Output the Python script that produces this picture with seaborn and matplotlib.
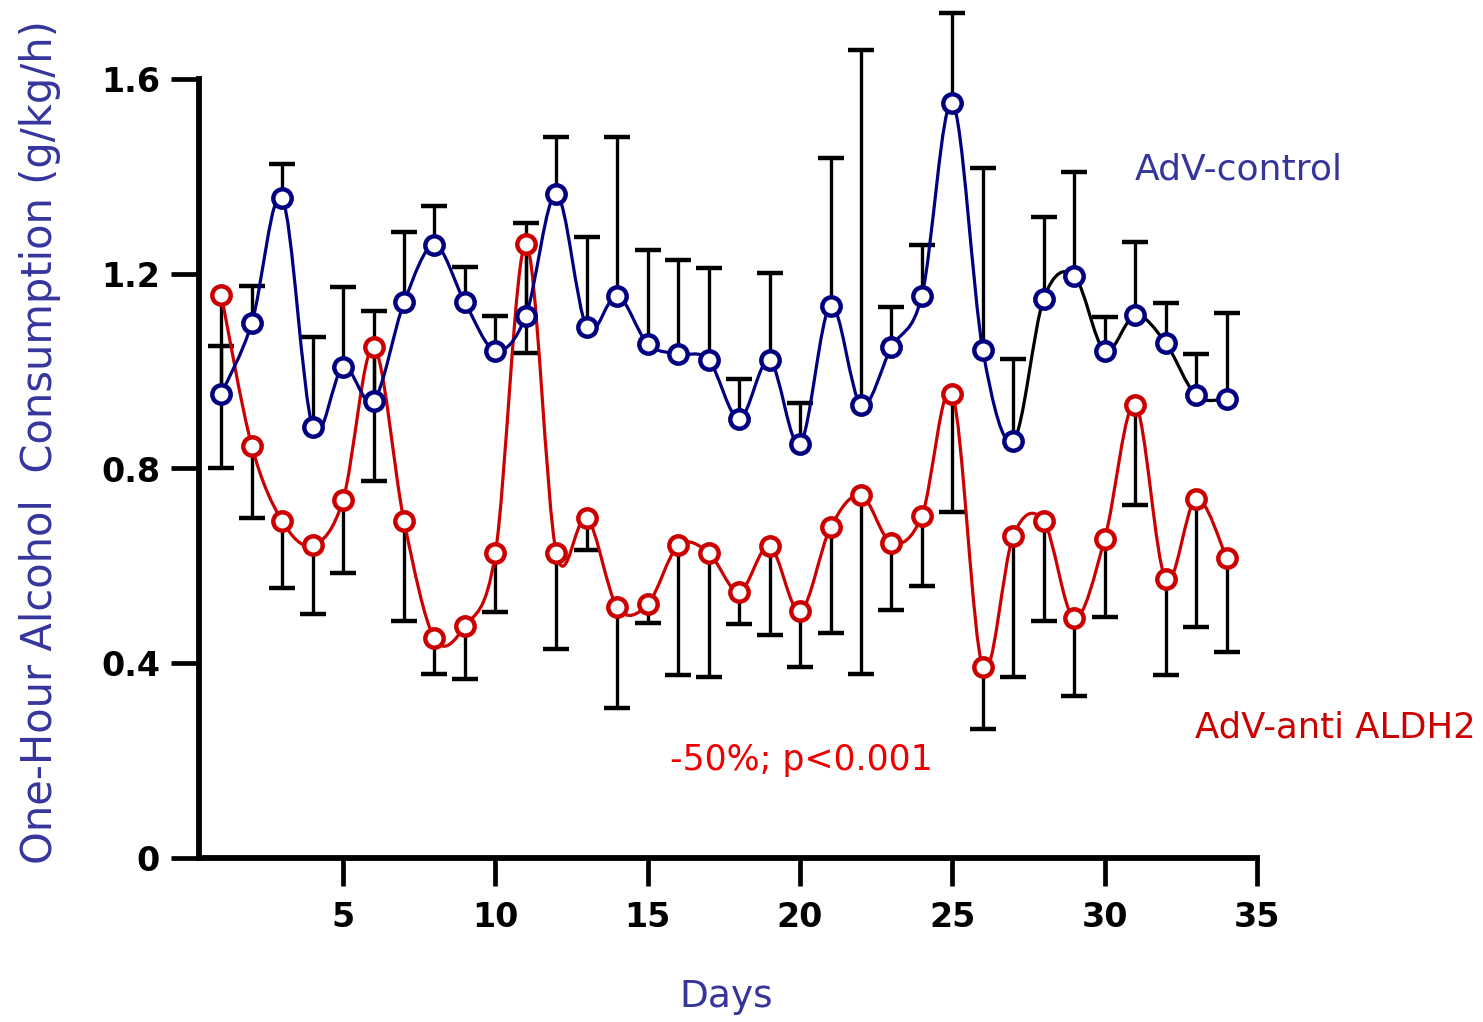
import numpy as np
import matplotlib
matplotlib.use("Agg")
import matplotlib.pyplot as plt
from matplotlib.path import Path
from matplotlib.patches import PathPatch
import seaborn as sns

# values
days = list(range(1, 35))
control_mean = [0.953, 1.098, 1.355, 0.886, 1.008, 0.939, 1.141, 1.259, 1.141, 1.042,
                1.114, 1.363, 1.090, 1.155, 1.056, 1.035, 1.023, 0.902, 1.022, 0.851,
                1.134, 0.931, 1.049, 1.155, 1.551, 1.043, 0.857, 1.149, 1.196, 1.042,
                1.115, 1.058, 0.950, 0.943]
control_top = [1.052, 1.175, 1.426, 1.071, 1.173, 1.124, 1.286, 1.339, 1.213, 1.114,
               1.305, 1.480, 1.276, 1.481, 1.249, 1.228, 1.212, 0.983, 1.201, 0.934,
               1.437, 1.659, 1.132, 1.259, 1.735, 1.418, 1.024, 1.317, 1.410, 1.112,
               1.266, 1.139, 1.035, 1.119]
anti_mean = [1.157, 0.847, 0.692, 0.642, 0.736, 1.049, 0.692, 0.451, 0.476, 0.626,
             1.261, 0.626, 0.699, 0.515, 0.521, 0.642, 0.627, 0.547, 0.640, 0.507,
             0.679, 0.745, 0.647, 0.703, 0.953, 0.392, 0.662, 0.692, 0.493, 0.655,
             0.931, 0.573, 0.738, 0.617]
anti_bottom = [0.802, 0.699, 0.554, 0.502, 0.585, 0.775, 0.487, 0.378, 0.368, 0.506,
               1.037, 0.429, 0.632, 0.309, 0.482, 0.375, 0.372, 0.480, 0.459, 0.392,
               0.463, 0.378, 0.510, 0.558, 0.710, 0.265, 0.372, 0.487, 0.333, 0.495,
               0.725, 0.376, 0.474, 0.424]
x_ticks = [5, 10, 15, 20, 25, 30, 35]
y_ticks = [0, 0.4, 0.8, 1.2, 1.6]
y_ticklabels = ["0", "0.4", "0.8", "1.2", "1.6"]

BLUE = "#000080"
RED = "#cc0000"
TXT_BLUE = "#35359c"


def smooth_path(xs, ys, start, stop):
    """Catmull-Rom curve through the points, as cubic bezier segments."""
    pts = np.column_stack([xs, ys]).astype(float)
    n = len(pts)
    verts = [pts[start]]
    codes = [Path.MOVETO]
    for i in range(start, stop):
        p0 = pts[max(i - 1, 0)]
        p1 = pts[i]
        p2 = pts[i + 1]
        p3 = pts[min(i + 2, n - 1)]
        verts += [p1 + (p2 - p0) / 6, p2 - (p3 - p1) / 6, p2]
        codes += [Path.CURVE4] * 3
    return Path(verts, codes)


sns.set_style("ticks")
plt.rcParams["font.family"] = ["DejaVu Sans"]

fig = plt.figure(figsize=(14.83, 10.22), dpi=100)
W, H = 1483, 1022
ax = fig.add_axes([199 / W, (H - 858) / H, (1257 - 199) / W, (858 - 79) / H])
ax.set_xlim(0.27, 35)
ax.set_ylim(0, 1.6)

# smooth lines
ax.add_patch(PathPatch(smooth_path(days, control_mean, 0, 26), fill=False,
                       edgecolor=BLUE, lw=2.3, zorder=3))
ax.add_patch(PathPatch(smooth_path(days, control_mean, 26, 33), fill=False,
                       edgecolor="black", lw=2.3, zorder=3))
ax.add_patch(PathPatch(smooth_path(days, anti_mean, 0, 33), fill=False,
                       edgecolor=RED, lw=2.3, zorder=2))

# one-sided error bars
ax.vlines(days, control_mean, control_top, color="black", lw=2.4, zorder=1, clip_on=False)
ax.plot(days, control_top, ls="none", marker="_", ms=19, mew=3.2, color="black",
        zorder=1, clip_on=False)
ax.vlines(days, anti_bottom, anti_mean, color="black", lw=2.4, zorder=1, clip_on=False)
ax.plot(days, anti_bottom, ls="none", marker="_", ms=19, mew=3.2, color="black",
        zorder=1, clip_on=False)

# open circle markers
sns.scatterplot(x=days, y=anti_mean, marker="o", s=175, color="white",
                edgecolor=RED, linewidth=3.2, zorder=4, ax=ax, clip_on=False)
sns.scatterplot(x=days, y=control_mean, marker="o", s=175, color="white",
                edgecolor=BLUE, linewidth=3.2, zorder=5, ax=ax, clip_on=False)

# axes styling
for s in ["top", "right"]:
    ax.spines[s].set_visible(False)
for s in ["left", "bottom"]:
    ax.spines[s].set_linewidth(4.2)
    ax.spines[s].set_edgecolor("black")
ax.spines["left"].set_bounds(0, 1.6)
ax.spines["bottom"].set_bounds(0.27, 35)
ax.set_xticks(x_ticks)
ax.set_yticks(y_ticks)
ax.set_yticklabels(y_ticklabels)
ax.tick_params(axis="both", direction="out", length=20, width=3.4, labelsize=24,
               color="black", labelcolor="black")
ax.tick_params(axis="x", pad=11)
ax.tick_params(axis="y", pad=8)
for lab in ax.get_xticklabels() + ax.get_yticklabels():
    lab.set_fontweight("bold")

# texts
fig.text(40 / W, 1 - 442 / H, "One-Hour Alcohol  Consumption (g/kg/h)", rotation=90,
         ha="center", va="center", fontsize=30, color=TXT_BLUE)
fig.text(726 / W, 1 - 997 / H, "Days", ha="center", va="center", fontsize=27, color=TXT_BLUE)
fig.text(1135 / W, 1 - 170 / H, "AdV-control", ha="left", va="center", fontsize=26, color=TXT_BLUE)
fig.text(1195 / W, 1 - 728 / H, "AdV-anti ALDH2", ha="left", va="center", fontsize=25.5, color=RED)
fig.text(670 / W, 1 - 760 / H, "-50%; p<0.001", ha="left", va="center", fontsize=25, color="#ee0000")

fig.savefig("out.png", dpi=100)
